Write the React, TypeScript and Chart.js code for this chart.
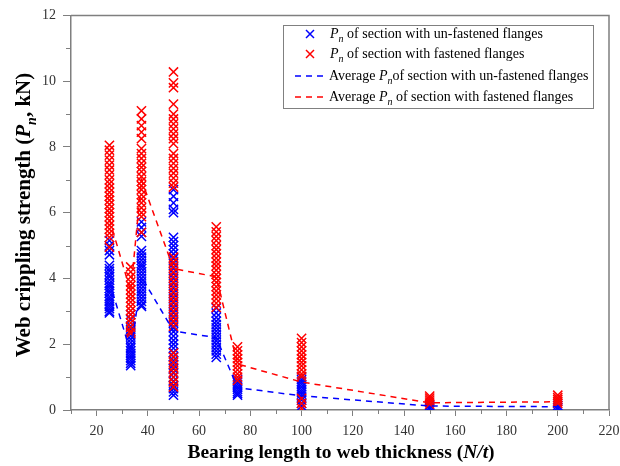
import React, { useEffect, useRef } from "react";
import { Chart, registerables } from "chart.js";
Chart.register(...registerables);

// N/t categories
const nT = [25, 33.3, 37.5, 50, 66.7, 75, 100, 150, 200];

// Pn of section with un-fastened flanges (kN), per N/t
const unfastened25 = [5.15, 5.0, 4.85, 4.72, 4.4, 4.3, 4.22, 4.12, 4.05, 3.95, 3.85, 3.78, 3.7, 3.62, 3.55, 3.45, 3.38, 3.3, 3.22, 3.15, 3.08, 3.0, 2.95];
const unfastened33 = [2.9, 2.75, 2.55, 2.45, 2.35, 2.25, 2.15, 2.05, 1.95, 1.88, 1.8, 1.72, 1.65, 1.58, 1.5, 1.42, 1.35];
const unfastened37 = [5.72, 5.55, 5.4, 5.28, 4.85, 4.75, 4.65, 4.55, 4.45, 4.38, 4.3, 4.2, 4.1, 4.0, 3.9, 3.8, 3.7, 3.6, 3.5, 3.4, 3.3, 3.2, 3.15];
const unfastened50 = [6.7, 6.5, 6.3, 6.1, 6.0, 5.25, 5.12, 5.0, 4.88, 4.75, 4.6, 4.45, 4.3, 4.15, 4.0, 3.85, 3.7, 3.55, 3.4, 3.25, 3.1, 2.95, 2.8, 2.65, 2.5, 2.38, 2.25, 2.12, 2.0, 1.88, 1.75, 1.62, 1.5, 1.38, 1.25, 1.12, 1.0, 0.88, 0.75, 0.65, 0.55, 0.45];
const unfastened66 = [3.1, 2.95, 2.82, 2.7, 2.6, 2.5, 2.4, 2.3, 2.2, 2.1, 2.0, 1.9, 1.8, 1.7, 1.6];
const unfastened75 = [0.92, 0.85, 0.78, 0.7, 0.63, 0.56, 0.5, 0.45];
const unfastened100 = [1.0, 0.92, 0.85, 0.78, 0.7, 0.62, 0.55, 0.48, 0.4, 0.3, 0.2, 0.12];
const unfastened150 = [0.14, 0.08, 0.03];
const unfastened200 = [0.14, 0.08, 0.03];

// Pn of section with fastened flanges (kN), per N/t
const fastened25 = [8.05, 7.9, 7.75, 7.6, 7.45, 7.3, 7.15, 7.0, 6.88, 6.75, 6.62, 6.5, 6.38, 6.25, 6.12, 6.0, 5.88, 5.75, 5.62, 5.5, 5.38, 5.25, 4.95];
const fastened33 = [4.35, 4.2, 4.05, 3.9, 3.78, 3.65, 3.52, 3.4, 3.28, 3.15, 3.02, 2.9, 2.78, 2.65, 2.52, 2.4, 2.33];
const fastened37 = [9.1, 8.85, 8.65, 8.45, 8.25, 7.95, 7.8, 7.65, 7.5, 7.38, 7.25, 7.1, 6.95, 6.82, 6.7, 6.55, 6.42, 6.3, 6.15, 6.0, 5.88, 5.4];
const fastened50 = [10.28, 9.95, 9.8, 9.3, 9.0, 8.85, 8.7, 8.55, 8.4, 8.25, 8.1, 7.8, 7.65, 7.5, 7.35, 7.2, 7.05, 6.9, 6.78, 4.65, 4.5, 4.35, 4.2, 4.05, 3.9, 3.75, 3.6, 3.45, 3.3, 3.15, 3.0, 2.85, 2.7, 2.55, 1.73, 1.6, 1.45, 1.3, 1.15, 1.0, 0.85, 0.7];
const fastened66 = [5.57, 5.42, 5.28, 5.15, 5.0, 4.88, 4.75, 4.62, 4.5, 4.38, 4.25, 4.12, 4.0, 3.88, 3.75, 3.62, 3.5, 3.38, 3.25, 3.12];
const fastened75 = [1.92, 1.8, 1.68, 1.56, 1.45, 1.34, 1.22, 1.1, 1.0, 0.9];
const fastened100 = [2.18, 2.05, 1.92, 1.8, 1.68, 1.56, 1.45, 1.34, 1.22, 1.1, 1.02, 0.35, 0.2, 0.05];
const fastened150 = [0.42, 0.36, 0.3, 0.24, 0.18];
const fastened200 = [0.45, 0.38, 0.32, 0.26, 0.2];

const unfastenedGroups = [unfastened25, unfastened33, unfastened37, unfastened50, unfastened66, unfastened75, unfastened100, unfastened150, unfastened200];
const fastenedGroups = [fastened25, fastened33, fastened37, fastened50, fastened66, fastened75, fastened100, fastened150, fastened200];

// Average Pn per N/t
const avgUnfastened = [3.9, 1.75, 4.05, 2.4, 2.2, 0.68, 0.43, 0.12, 0.1];
const avgFastened = [5.8, 3.6, 7.0, 4.3, 4.05, 1.4, 0.85, 0.22, 0.25];

// Axis ticks
const xTickValues = [20, 40, 60, 80, 100, 120, 140, 160, 180, 200, 220];
const xMinorTicks = [10, 30, 50, 70, 90, 110, 130, 150, 170, 190, 210];
const yTickValues = [0, 2, 4, 6, 8, 10, 12];
const yMinorTicks = [1, 3, 5, 7, 9, 11];

const BLUE = "#0000ff";
const RED = "#ff0000";
const AXIS = "#7f7f7f";
const SERIF = '"Liberation Serif", "Times New Roman", serif';

type Run = { t: string; i?: boolean; sub?: boolean };

const legendItems: { kind: "cross" | "dash"; color: string; runs: Run[] }[] = [
  { kind: "cross", color: BLUE, runs: [{ t: "P", i: true }, { t: "n", i: true, sub: true }, { t: " of section with un-fastened flanges" }] },
  { kind: "cross", color: RED, runs: [{ t: "P", i: true }, { t: "n", i: true, sub: true }, { t: " of section with fastened flanges" }] },
  { kind: "dash", color: BLUE, runs: [{ t: "Average " }, { t: "P", i: true }, { t: "n", i: true, sub: true }, { t: "of section with un-fastened flanges" }] },
  { kind: "dash", color: RED, runs: [{ t: "Average " }, { t: "P", i: true }, { t: "n", i: true, sub: true }, { t: " of section with fastened flanges" }] },
];

const yTitleRuns: Run[] = [{ t: "Web crippling strength (" }, { t: "P", i: true }, { t: "n", i: true, sub: true }, { t: ", kN)" }];
const xTitleRuns: Run[] = [{ t: "Bearing length to web thickness (" }, { t: "N/t", i: true }, { t: ")" }];

function fontFor(r: Run, size: number, bold: boolean) {
  const s = r.sub ? Math.round(size * 0.68) : size;
  return `${r.i ? "italic " : ""}${bold ? "bold " : ""}${s}px ${SERIF}`;
}

function drawRuns(ctx: CanvasRenderingContext2D, runs: Run[], x: number, y: number, size: number, bold: boolean, align: "left" | "center", color: string) {
  ctx.textBaseline = "alphabetic";
  ctx.textAlign = "left";
  const widths = runs.map((r) => {
    ctx.font = fontFor(r, size, bold);
    return ctx.measureText(r.t).width;
  });
  const total = widths.reduce((a, b) => a + b, 0);
  let cx = align === "center" ? x - total / 2 : x;
  ctx.fillStyle = color;
  runs.forEach((r, k) => {
    ctx.font = fontFor(r, size, bold);
    ctx.fillText(r.t, cx, r.sub ? y + size * 0.3 : y);
    cx += widths[k];
  });
}

const decorPlugin = {
  id: "decor",
  afterDraw(chart: any) {
    const ctx: CanvasRenderingContext2D = chart.ctx;
    const { left, right, top, bottom } = chart.chartArea;
    const xs = chart.scales.x;
    const ys = chart.scales.y;
    ctx.save();
    // frame top & right
    ctx.strokeStyle = AXIS;
    ctx.lineWidth = 1.5;
    ctx.beginPath();
    ctx.moveTo(left, top);
    ctx.lineTo(right, top);
    ctx.lineTo(right, bottom);
    ctx.stroke();
    // minor ticks
    ctx.lineWidth = 1;
    ctx.beginPath();
    xMinorTicks.forEach((v) => {
      const px = Math.round(xs.getPixelForValue(v)) + 0.5;
      ctx.moveTo(px, bottom);
      ctx.lineTo(px, bottom + 4);
    });
    yMinorTicks.forEach((v) => {
      const py = Math.round(ys.getPixelForValue(v)) + 0.5;
      ctx.moveTo(left - 5, py);
      ctx.lineTo(left, py);
    });
    ctx.stroke();

    // axis titles
    drawRuns(ctx, xTitleRuns, 341, 458, 19.5, true, "center", "#000");
    ctx.save();
    ctx.translate(30, 215);
    ctx.rotate(-Math.PI / 2);
    drawRuns(ctx, yTitleRuns, 0, 0, 21, true, "center", "#000");
    ctx.restore();

    // legend
    const bx = 283.5, by = 25.5, bw = 310, bh = 83;
    ctx.fillStyle = "#fff";
    ctx.fillRect(bx, by, bw, bh);
    ctx.strokeStyle = "#808080";
    ctx.lineWidth = 1;
    ctx.strokeRect(bx, by, bw, bh);
    const rowY = [34, 54, 76, 97];
    legendItems.forEach((it, k) => {
      const cy = rowY[k];
      ctx.strokeStyle = it.color;
      if (it.kind === "cross") {
        ctx.lineWidth = 1.5;
        ctx.setLineDash([]);
        ctx.beginPath();
        ctx.moveTo(306, cy - 4);
        ctx.lineTo(314, cy + 4);
        ctx.moveTo(314, cy - 4);
        ctx.lineTo(306, cy + 4);
        ctx.stroke();
        drawRuns(ctx, it.runs, 330, cy + 4, 14, false, "left", "#000");
      } else {
        ctx.lineWidth = 1.5;
        ctx.setLineDash([6, 5]);
        ctx.beginPath();
        ctx.moveTo(295, cy);
        ctx.lineTo(328, cy);
        ctx.stroke();
        ctx.setLineDash([]);
        drawRuns(ctx, it.runs, 329, cy + 4, 14, false, "left", "#000");
      }
    });
    ctx.restore();
  },
};

function points(groups: number[][]) {
  const out: { x: number; y: number }[] = [];
  groups.forEach((vals, gi) => vals.forEach((v) => out.push({ x: nT[gi], y: v })));
  return out;
}

export default function App() {
  const ref = useRef<HTMLCanvasElement | null>(null);
  useEffect(() => {
    if (!ref.current) return;
    const chart = new Chart(ref.current, {
      type: "scatter",
      data: {
        datasets: [
          {
            label: "Average Pn of section with un-fastened flanges",
            type: "line",
            data: nT.map((x, i) => ({ x, y: avgUnfastened[i] })),
            borderColor: BLUE,
            borderWidth: 1.5,
            borderDash: [6, 5],
            pointRadius: 0,
            fill: false,
            tension: 0,
            order: 0,
          } as any,
          {
            label: "Average Pn of section with fastened flanges",
            type: "line",
            data: nT.map((x, i) => ({ x, y: avgFastened[i] })),
            borderColor: RED,
            borderWidth: 1.5,
            borderDash: [6, 5],
            pointRadius: 0,
            fill: false,
            tension: 0,
            order: 0,
          } as any,
          {
            label: "Pn of section with fastened flanges",
            data: points(fastenedGroups),
            pointStyle: "crossRot",
            pointRadius: 6.5,
            borderColor: RED,
            backgroundColor: RED,
            borderWidth: 1.5,
            order: 1,
          } as any,
          {
            label: "Pn of section with un-fastened flanges",
            data: points(unfastenedGroups),
            pointStyle: "crossRot",
            pointRadius: 6.5,
            borderColor: BLUE,
            backgroundColor: BLUE,
            borderWidth: 1.5,
            order: 2,
          } as any,
        ],
      },
      options: {
        animation: false,
        responsive: false,
        layout: { padding: { top: 15, right: 11, left: 0, bottom: 0 } },
        plugins: { legend: { display: false }, tooltip: { enabled: false } },
        scales: {
          x: {
            type: "linear",
            min: 10,
            max: 220,
            afterBuildTicks: (s: any) => {
              s.ticks = xTickValues.map((v) => ({ value: v }));
            },
            afterFit: (s: any) => {
              s.height = 56;
              s.paddingRight = 0;
              s.paddingLeft = 0;
            },
            ticks: { autoSkip: false, maxRotation: 0, padding: 7, color: "#333", font: { family: SERIF, size: 14 } },
            grid: { drawOnChartArea: false, drawTicks: true, tickLength: 6, color: AXIS, lineWidth: 1 },
            border: { display: true, color: AXIS, width: 1.5 },
          },
          y: {
            type: "linear",
            min: 0,
            max: 12,
            afterBuildTicks: (s: any) => {
              s.ticks = yTickValues.map((v) => ({ value: v }));
            },
            afterFit: (s: any) => {
              s.width = 71;
            },
            ticks: { autoSkip: false, padding: 7, color: "#333", font: { family: SERIF, size: 14 } },
            grid: { drawOnChartArea: false, drawTicks: true, tickLength: 8, color: AXIS, lineWidth: 1 },
            border: { display: true, color: AXIS, width: 1.5 },
          },
        },
      },
      plugins: [decorPlugin],
    });
    return () => chart.destroy();
  }, []);
  return (
    <div style={{ position: "fixed", left: 0, top: 0, width: 620, height: 466, background: "#fff" }}>
      <canvas ref={ref} width={620} height={466} style={{ width: 620, height: 466, display: "block" }} />
    </div>
  );
}
